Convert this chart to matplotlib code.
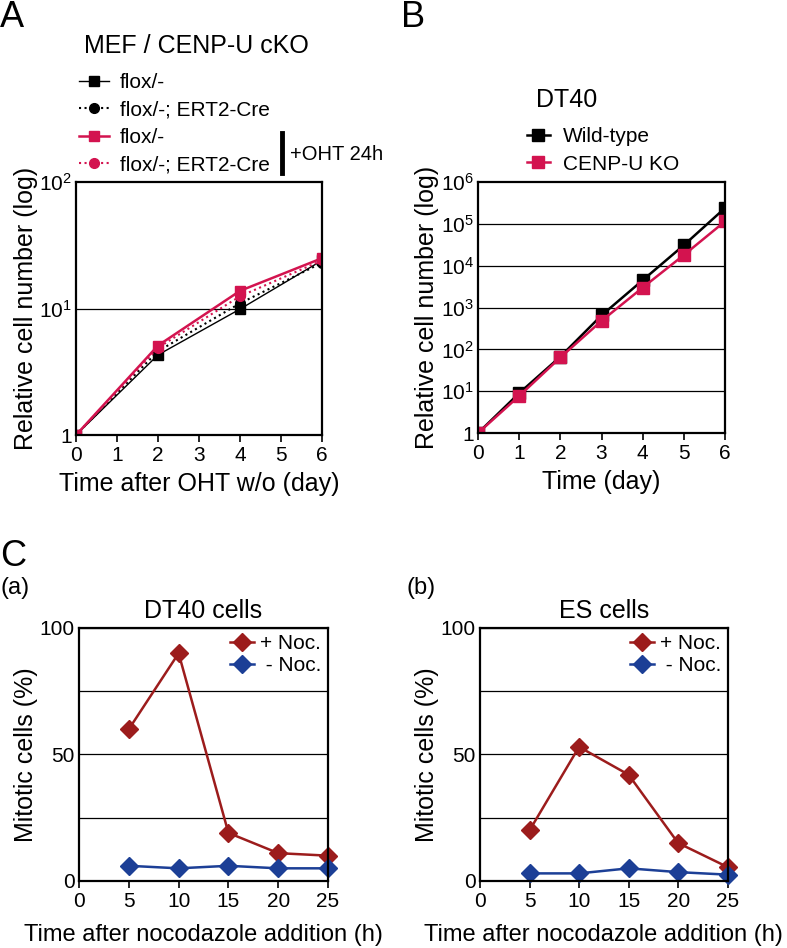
import matplotlib
matplotlib.use('Agg')
import matplotlib.pyplot as plt
from matplotlib.lines import Line2D

plt.rcParams['font.family'] = ['Liberation Sans', 'DejaVu Sans']
plt.rcParams['mathtext.fontset'] = 'custom'
plt.rcParams['mathtext.rm'] = 'Liberation Sans'

# A: MEF / CENP-U cKO
days_a = [0, 2, 4, 6]
flox = [1, 4.3, 9.9, 24]
flox_cre = [1, 4.6, 11, 23]
flox_oht = [1, 5.1, 13.8, 25]
flox_cre_oht = [1, 4.9, 12.5, 24]

# B: DT40
days_b = [0, 1, 2, 3, 4, 5, 6]
wild_type = [1, 9, 67, 650, 4500, 31000, 240000]
cenpu_ko = [1, 7.7, 64, 480, 3000, 18000, 115000]

# C: mitotic index
hours = [5, 10, 15, 20, 25]
dt40_noc = [60, 90, 19, 11, 10]
dt40_nonoc = [6, 5, 6, 5, 5]
es_noc = [20, 53, 42, 15, 5.5]
es_nonoc = [3, 3, 5, 3.5, 2.5]

PINK = '#d3134f'
DRED = '#9c1c1c'
BLUE = '#1c3f96'

fig = plt.figure(figsize=(7.87, 9.48), dpi=100)

def style(ax):
    for s in ax.spines.values():
        s.set_linewidth(1.6)
    ax.tick_params(axis='x', direction='out', length=5, width=1.2, labelsize=15, pad=3)
    ax.tick_params(axis='y', length=0, labelsize=15, pad=3)
    ax.tick_params(which='minor', length=0)

# ---- A ----
axA = fig.add_axes([0.0966, 0.5411, 0.3126, 0.2669])
axA.plot(days_a, flox, '-s', color='black', lw=1.0, ms=7, label='flox/-')
axA.plot(days_a, flox_cre, ':o', color='black', lw=1.5, ms=7, label='flox/-; ERT2-Cre')
axA.plot(days_a, flox_oht, '-s', color=PINK, lw=1.8, ms=7, label='flox/-')
axA.plot(days_a, flox_cre_oht, ':o', color=PINK, lw=1.5, ms=7, label='flox/-; ERT2-Cre')
axA.set_yscale('log')
axA.set_ylim(1, 100)
axA.set_xlim(0, 6)
axA.set_xticks(range(7))
axA.set_yticks([1, 10, 100], ['1', r'$\mathregular{10^{1}}$', r'$\mathregular{10^{2}}$'])
axA.yaxis.set_minor_locator(matplotlib.ticker.NullLocator())
axA.axhline(10, color='black', lw=0.9, zorder=0)
style(axA)
axA.set_xlabel('Time after OHT w/o (day)', fontsize=18, labelpad=5)
axA.set_ylabel('Relative cell number (log)', fontsize=18, labelpad=1)
axA.legend(loc='upper left', bbox_to_anchor=(0.101, 0.923), bbox_transform=fig.transFigure,
           frameon=False, fontsize=15, handlelength=1.4, handletextpad=0.55,
           labelspacing=0.41, borderaxespad=0, borderpad=0)
fig.text(0.25, 0.952, 'MEF / CENP-U cKO', fontsize=18, ha='center', va='center')
fig.add_artist(Line2D([0.358, 0.358], [0.817, 0.860], color='black', lw=3.5))
fig.text(0.3685, 0.8365, '+OHT 24h', fontsize=14.5, ha='left', va='center')
fig.text(0.0, 0.9815, 'A', fontsize=26, ha='left', va='center')

# ---- B ----
axB = fig.add_axes([0.6074, 0.5432, 0.3139, 0.2648])
axB.plot(days_b, wild_type, '-s', color='black', lw=1.8, ms=8, label='Wild-type')
axB.plot(days_b, cenpu_ko, '-s', color=PINK, lw=1.8, ms=8, label='CENP-U KO')
axB.set_yscale('log')
axB.set_ylim(1, 1e6)
axB.set_xlim(0, 6)
axB.set_xticks(range(7))
axB.set_yticks([10 ** i for i in range(7)],
               ['1'] + [r'$\mathregular{10^{%d}}$' % i for i in range(1, 7)])
axB.yaxis.set_minor_locator(matplotlib.ticker.NullLocator())
for i in range(1, 6):
    axB.axhline(10 ** i, color='black', lw=0.9, zorder=0)
style(axB)
axB.set_xlabel('Time (day)', fontsize=18, labelpad=5)
axB.set_ylabel('Relative cell number (log)', fontsize=18, labelpad=1)
axB.legend(loc='upper left', bbox_to_anchor=(0.669, 0.866), bbox_transform=fig.transFigure,
           frameon=False, fontsize=15, handlelength=1.15, handletextpad=0.6,
           labelspacing=0.41, borderaxespad=0, borderpad=0)
fig.text(0.7205, 0.8945, 'DT40', fontsize=18, ha='center', va='center')
fig.text(0.51, 0.9815, 'B', fontsize=26, ha='left', va='center')

# ---- C ----
def mitotic(rect, noc, nonoc, title):
    ax = fig.add_axes(rect)
    ax.plot(hours, noc, '-D', color=DRED, lw=1.8, ms=9.5, label='+ Noc.')
    ax.plot(hours, nonoc, '-D', color=BLUE, lw=1.8, ms=9.5, label=' - Noc.')
    ax.set_xlim(0, 25)
    ax.set_ylim(0, 100)
    ax.set_xticks(range(0, 26, 5))
    ax.set_yticks([0, 50, 100])
    ax.set_yticks([25, 75], minor=True)
    ax.grid(axis='y', which='both', color='black', lw=0.9, zorder=0)
    ax.set_axisbelow(True)
    style(ax)
    for l in ax.get_lines():
        l.set_clip_on(False)
    ax.set_xlabel('Time after nocodazole addition (h)', fontsize=17, labelpad=9)
    ax.set_ylabel('Mitotic cells (%)', fontsize=18, labelpad=1)
    ax.set_title(title, fontsize=18, pad=7)
    ax.legend(loc='upper right', frameon=False, fontsize=15, handlelength=1.15,
              handletextpad=0.3, labelspacing=0.15, borderaxespad=0.2, borderpad=0.1)
    return ax

mitotic([0.1004, 0.0707, 0.3164, 0.2669], dt40_noc, dt40_nonoc, 'DT40 cells')
mitotic([0.6099, 0.0707, 0.3147, 0.2669], es_noc, es_nonoc, 'ES cells')
fig.text(0.0, 0.4135, 'C', fontsize=26, ha='left', va='center')
fig.text(0.0, 0.3797, '(a)', fontsize=17, ha='left', va='center')
fig.text(0.517, 0.3797, '(b)', fontsize=17, ha='left', va='center')

fig.savefig('out.png', dpi=100)
